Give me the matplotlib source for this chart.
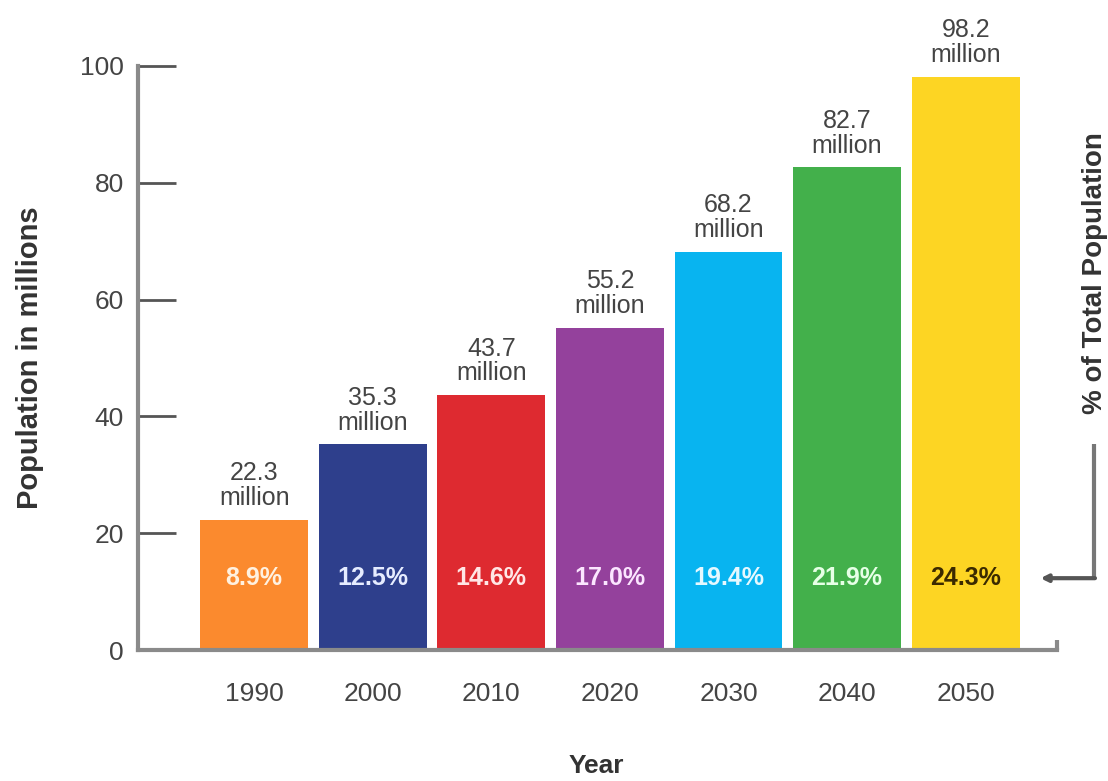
import matplotlib.pyplot as plt
import numpy as np

plt.rcParams['font.family'] = ['Liberation Sans', 'DejaVu Sans']

# %% data
years = ['1990', '2000', '2010', '2020', '2030', '2040', '2050']
population = [22.3, 35.3, 43.7, 55.2, 68.2, 82.7, 98.2]
share = ['8.9%', '12.5%', '14.6%', '17.0%', '19.4%', '21.9%', '24.3%']
bar_colors = ['#FB8A2E', '#2E3F8C', '#DE2A30', '#94419C', '#08B4F0', '#43B04B', '#FDD523']
share_colors = ['#FFF1E0', '#E6ECFF', '#FFE6E6', '#FBE6FF', '#E6F8FF', '#E6FFE6', '#3B2A00']
yticks = [0, 20, 40, 60, 80, 100]

# %% plot
fig = plt.figure(figsize=(11.08, 7.81), dpi=100)
ax = fig.add_axes([0.1245, 0.1677, 0.8295, 0.7478])

x = np.arange(len(years))
ax.bar(x, population, width=0.91, color=bar_colors)

for i, v in enumerate(population):
    ax.text(i, v + 1.6, f'{v}\nmillion', ha='center', va='bottom',
            fontsize=18, color='#444444', linespacing=1.05, clip_on=False)
    ax.text(i, 12.3, share[i], ha='center', va='center', fontsize=18,
            fontweight='bold', color=share_colors[i])

ax.set_xlim(-0.98, 6.77)
ax.set_ylim(0, 100)
ax.set_xticks(x)
ax.set_xticklabels(years)
ax.set_yticks(yticks)

ax.spines['top'].set_visible(False)
ax.spines['right'].set_visible(False)
for s in ['left', 'bottom']:
    ax.spines[s].set_color('#8a8a8a')
    ax.spines[s].set_linewidth(3)

ax.tick_params(axis='y', direction='in', length=27, width=2, color='#555555',
               labelsize=19, labelcolor='#444444', pad=10)
ax.tick_params(axis='x', length=0, labelsize=19, labelcolor='#444444', pad=23)

# small closing tick at end of x axis
ax.plot([6.77, 6.77], [0, 1.8], color='#8a8a8a', lw=3, clip_on=False,
        solid_capstyle='butt')

fig.text(0.5385, 0.004, 'Year', ha='center', va='bottom', fontsize=19,
         fontweight='bold', color='#333333')
ax.set_ylabel('Population in millions', fontsize=21, fontweight='bold',
              color='#333333', labelpad=26)

# right-hand bracket pointing to percentage labels
ax.plot([7.08, 7.08], [35.3, 12.3], color='#777777', lw=3, clip_on=False,
        solid_capstyle='butt')
ax.annotate('', xy=(6.63, 12.3), xytext=(7.09, 12.3), annotation_clip=False,
            arrowprops=dict(arrowstyle='-|>', color='#555555', lw=3,
                            mutation_scale=10, shrinkA=0, shrinkB=0))
ax.text(7.09, 64.5, '% of Total Population', rotation=90, ha='center',
        va='center', fontsize=20, fontweight='bold', color='#333333',
        clip_on=False)

fig.savefig('out.png', dpi=100)
